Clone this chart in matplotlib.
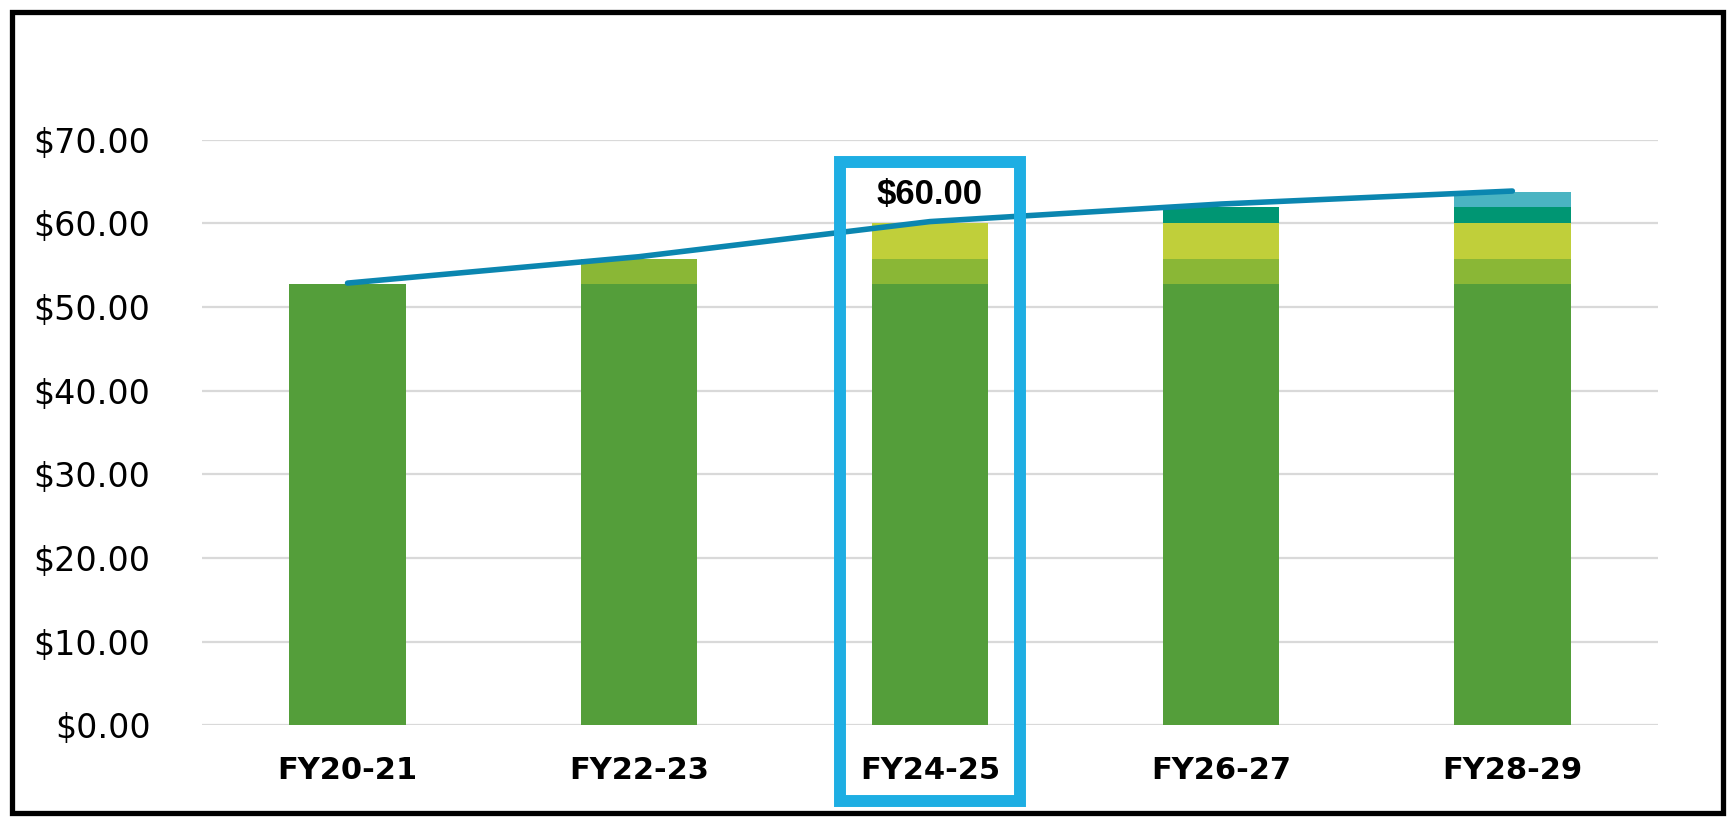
import matplotlib.pyplot as plt
from matplotlib.patches import Rectangle
import numpy as np

years = ["FY20-21", "FY22-23", "FY24-25", "FY26-27", "FY28-29"]
seg_base = [52.75, 52.75, 52.75, 52.75, 52.75]
seg_2 = [0.0, 3.0, 3.0, 3.0, 3.0]
seg_3 = [0.0, 0.0, 4.25, 4.25, 4.25]
seg_4 = [0.0, 0.0, 0.0, 2.0, 2.0]
seg_5 = [0.0, 0.0, 0.0, 0.0, 1.7]
total_line = [52.85, 56.0, 60.2, 62.3, 63.85]
highlight_label = "$60.00"
y_ticks = [0, 10, 20, 30, 40, 50, 60, 70]

seg_colors = ["#549e3a", "#8ab736", "#c0cf3a", "#009673", "#4ab4c2"]

fig = plt.figure(figsize=(17.29, 8.22), dpi=100)
ax = fig.add_axes([0.1168, 0.1176, 0.8421, 0.7126])

x = np.arange(len(years))
bottom = np.zeros(len(years))
for seg, col in zip([seg_base, seg_2, seg_3, seg_4, seg_5], seg_colors):
    ax.bar(x, seg, bottom=bottom, width=0.40, color=col, zorder=2)
    bottom += np.array(seg)

ax.plot(x, total_line, color="#0b86b0", lw=4.0, solid_capstyle="round", zorder=3)

ax.set_xlim(-0.5, 4.5)
ax.set_ylim(0, 70)
ax.set_yticks(y_ticks)
ax.set_yticklabels(["${:.2f}".format(v) for v in y_ticks], fontsize=24)
ax.set_xticks(x)
ax.set_xticklabels(years, fontsize=22, fontweight="bold")
ax.tick_params(axis="y", length=0, pad=37)
ax.tick_params(axis="x", length=0, pad=22)
ax.grid(axis="y", color="#d9d9d9", lw=1.6, zorder=0)
for s in ax.spines.values():
    s.set_visible(False)

ax.text(2, 63.4, highlight_label, ha="center", va="center", fontsize=25,
        fontweight="bold", family="Liberation Sans")

# highlight box around FY24-25 and outer frame (figure pixels)
W, H = 1729.0, 822.0
fig.patches.append(Rectangle((840 / W, 1 - 801 / H), 180 / W, 639 / H,
                             transform=fig.transFigure, fill=False,
                             edgecolor="#1eaee3", lw=8.6, zorder=5))
fig.patches.append(Rectangle((12 / W, 1 - 813 / H), 1711 / W, 801 / H,
                             transform=fig.transFigure, fill=False,
                             edgecolor="black", lw=3.8, zorder=5))

fig.savefig("out.png", dpi=100)
